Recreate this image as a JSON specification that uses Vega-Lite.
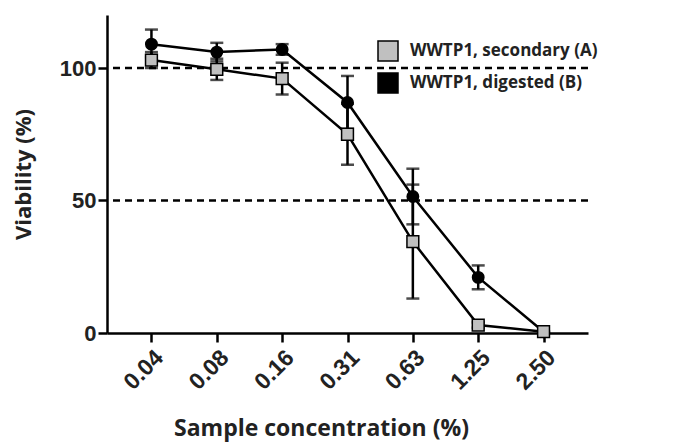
{
  "$schema": "https://vega.github.io/schema/vega-lite/v6.json",
  "width": 481,
  "height": 318,
  "autosize": "none",
  "padding": {"left": 107, "top": 15, "right": 86, "bottom": 109},
  "background": "white",
  "config": {
    "view": {"stroke": null},
    "font": "Liberation Sans",
    "axis": {
      "domainColor": "black",
      "domainWidth": 2.5,
      "tickColor": "black",
      "tickWidth": 2.5,
      "tickSize": 9,
      "grid": false,
      "labelFont": "Liberation Sans",
      "labelFontWeight": "bold",
      "labelColor": "#222222",
      "titleFont": "Open Sans",
      "titleFontWeight": "bold",
      "titleFontSize": 22,
      "titleColor": "#222222"
    },
    "axisX": {"labelFontSize": 23, "titleFontSize": 23},
    "axisY": {"labelFontSize": 22},
    "legend": {
      "padding": 0,
      "title": null,
      "orient": "none",
      "legendX": 270,
      "legendY": 25,
      "symbolSize": 400,
      "rowPadding": 6,
      "labelOffset": 11,
      "labelLimit": 400,
      "labelFont": "Open Sans",
      "labelFontWeight": "bold",
      "labelFontSize": 17,
      "labelColor": "#222222",
      "symbolStrokeColor": "black",
      "symbolStrokeWidth": 1.5
    }
  },
  "datasets": {
    "refs": [{"ref": 100}, {"ref": 50}],
    "series": [
      {"series": "WWTP1, digested (B)", "conc": "0.04", "mean": 109, "lo": 104, "hi": 114.5},
      {"series": "WWTP1, digested (B)", "conc": "0.08", "mean": 106, "lo": 102.5, "hi": 109.5},
      {"series": "WWTP1, digested (B)", "conc": "0.16", "mean": 107, "lo": 105, "hi": 109},
      {"series": "WWTP1, digested (B)", "conc": "0.31", "mean": 87, "lo": 77, "hi": 97},
      {"series": "WWTP1, digested (B)", "conc": "0.63", "mean": 51.5, "lo": 41, "hi": 62},
      {"series": "WWTP1, digested (B)", "conc": "1.25", "mean": 21, "lo": 16.5, "hi": 25.5},
      {"series": "WWTP1, digested (B)", "conc": "2.50", "mean": 0.5, "lo": 0.5, "hi": 0.5},
      {"series": "WWTP1, secondary (A)", "conc": "0.04", "mean": 103, "lo": 100, "hi": 106},
      {"series": "WWTP1, secondary (A)", "conc": "0.08", "mean": 99.5, "lo": 95.5, "hi": 103.5},
      {"series": "WWTP1, secondary (A)", "conc": "0.16", "mean": 96, "lo": 90, "hi": 102},
      {"series": "WWTP1, secondary (A)", "conc": "0.31", "mean": 75, "lo": 63.5, "hi": 86.5},
      {"series": "WWTP1, secondary (A)", "conc": "0.63", "mean": 34.5, "lo": 13, "hi": 56},
      {"series": "WWTP1, secondary (A)", "conc": "1.25", "mean": 3, "lo": 2, "hi": 4},
      {"series": "WWTP1, secondary (A)", "conc": "2.50", "mean": 0.5, "lo": 0.5, "hi": 0.5}
    ]
  },
  "layer": [
    {
      "data": {"name": "refs"},
      "mark": {"type": "rule", "strokeDash": [7, 5], "strokeWidth": 2.5, "color": "black"},
      "encoding": {
        "y": {"field": "ref", "type": "quantitative", "title": "Viability (%)",
              "scale": {"domain": [0, 120], "nice": false},
              "axis": {"values": [0, 50, 100], "titlePadding": 24}}
      }
    },
    {
      "data": {"name": "series"},
      "mark": {"type": "rule", "strokeWidth": 2.5, "color": "black"},
      "encoding": {
        "x": {"field": "conc", "type": "ordinal", "title": "Sample concentration (%)",
              "sort": ["0.04", "0.08", "0.16", "0.31", "0.63", "1.25", "2.50"],
              "scale": {"type": "point", "padding": 0.68},
              "axis": {"labelAngle": -45, "labelPadding": 4, "titlePadding": 24, "titleX": 214}},
        "y": {"field": "lo", "type": "quantitative", "title": "Viability (%)"},
        "y2": {"field": "hi"}
      }
    },
    {
      "data": {"name": "series"},
      "mark": {"type": "tick", "size": 13, "thickness": 2.5, "color": "black"},
      "encoding": {
        "x": {"field": "conc", "type": "ordinal", "title": "Sample concentration (%)"},
        "y": {"field": "hi", "type": "quantitative", "title": "Viability (%)"}
      }
    },
    {
      "data": {"name": "series"},
      "mark": {"type": "tick", "size": 13, "thickness": 2.5, "color": "black"},
      "encoding": {
        "x": {"field": "conc", "type": "ordinal", "title": "Sample concentration (%)"},
        "y": {"field": "lo", "type": "quantitative", "title": "Viability (%)"}
      }
    },
    {
      "data": {"name": "series"},
      "mark": {"type": "line", "strokeWidth": 2.5, "color": "black"},
      "encoding": {
        "x": {"field": "conc", "type": "ordinal", "title": "Sample concentration (%)"},
        "y": {"field": "mean", "type": "quantitative", "title": "Viability (%)"},
        "detail": {"field": "series"}
      }
    },
    {
      "data": {"name": "series"},
      "transform": [{"filter": "datum.series === 'WWTP1, digested (B)'"}],
      "mark": {"type": "point", "shape": "circle", "filled": true, "fill": "black", "stroke": "black", "strokeWidth": 1.5, "opacity": 1, "size": 130},
      "encoding": {
        "x": {"field": "conc", "type": "ordinal", "title": "Sample concentration (%)"},
        "y": {"field": "mean", "type": "quantitative", "title": "Viability (%)"}
      }
    },
    {
      "data": {"name": "series"},
      "transform": [{"filter": "datum.series === 'WWTP1, secondary (A)'"}],
      "mark": {"type": "point", "shape": "square", "filled": true, "stroke": "black", "strokeWidth": 1.5, "opacity": 1, "size": 140},
      "encoding": {
        "x": {"field": "conc", "type": "ordinal", "title": "Sample concentration (%)"},
        "y": {"field": "mean", "type": "quantitative", "title": "Viability (%)"},
        "fill": {
          "field": "series", "type": "nominal",
          "scale": {"domain": ["WWTP1, secondary (A)", "WWTP1, digested (B)"], "range": ["#c0c0c0", "#000000"]},
          "legend": {
            "encode": {
              "symbols": {
                "shape": {"value": {"expr": "datum.value === 'WWTP1, secondary (A)' ? 'M-1.7,-0.08H-0.57V0.08H-1.7Z M0.57,-0.08H1.7V0.08H0.57Z M-0.57,-0.57H0.57V0.57H-0.57Z' : 'M-1.7,-0.08H-0.6V0.08H-1.7Z M0.6,-0.08H1.7V0.08H0.6Z M-0.62,0A0.62,0.62 0 1,0 0.62,0A0.62,0.62 0 1,0 -0.62,0Z'"}},
                "stroke": {"value": "black"},
                "strokeWidth": {"value": 1.5},
                "opacity": {"value": 1}
              }
            }
          }
        }
      }
    }
  ]
}
